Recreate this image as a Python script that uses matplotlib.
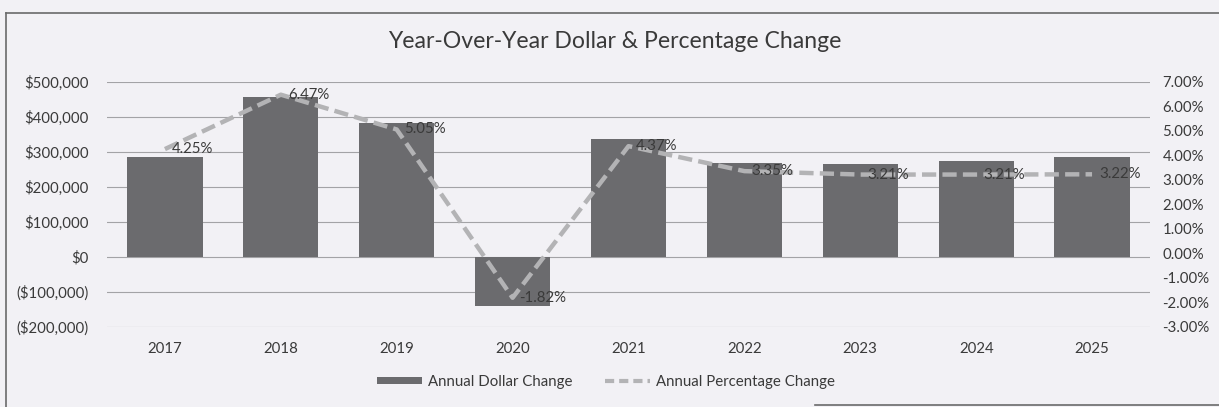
import matplotlib
matplotlib.use("Agg")
import matplotlib.pyplot as plt
from matplotlib.lines import Line2D
from matplotlib.patches import Patch
from matplotlib.ticker import FuncFormatter

# Data
years = ["2017", "2018", "2019", "2020", "2021", "2022", "2023", "2024", "2025"]
dollar_change = [285000, 456000, 383000, -140000, 336000, 267000, 266000, 273000, 284000]
pct_change = [4.25, 6.47, 5.05, -1.82, 4.37, 3.35, 3.21, 3.21, 3.22]
pct_labels = ["4.25%", "6.47%", "5.05%", "-1.82%", "4.37%", "3.35%", "3.21%", "3.21%", "3.22%"]

BG = "#f2f1f5"
BAR = "#6b6b6e"
LINE = "#b3b3b5"
GRID = "#a3a3a6"
TEXT = "#3a3a3a"
FS = 10.8

plt.rcParams["font.family"] = ["Lato", "DejaVu Sans"]

W, H = 1219, 407
fig = plt.figure(figsize=(W / 100, H / 100), dpi=100, facecolor=BG)

left, right, top, bottom = 107, 1150, 81.7, 326.7
ax = fig.add_axes([left / W, 1 - bottom / H, (right - left) / W, (bottom - top) / H])
ax.set_facecolor(BG)
ax2 = ax.twinx()

x = list(range(len(years)))
ax.bar(x, dollar_change, width=0.65, color=BAR, zorder=2)

ax.set_xlim(-0.5, len(years) - 0.5)
ax.set_ylim(-200000, 500000)
ax.set_yticks(range(-200000, 500001, 100000))


def dollar_fmt(v, _):
    v = int(round(v))
    if v < 0:
        return "(${:,})".format(-v)
    return "${:,}".format(v)


ax.yaxis.set_major_formatter(FuncFormatter(dollar_fmt))
ax.grid(axis="y", color=GRID, linewidth=0.8, zorder=0)
ax.set_axisbelow(True)
ax.set_xticks(x)
ax.set_xticklabels(years)
ax.tick_params(axis="both", length=0, labelsize=FS, labelcolor=TEXT)
ax.tick_params(axis="x", pad=11)
ax.tick_params(axis="y", pad=13)
for s in ax.spines.values():
    s.set_visible(False)

ax2.plot(x, pct_change, color=LINE, linewidth=3.2, linestyle=(0, (3.2, 1.4)),
         dash_capstyle="butt", zorder=3)
ax2.set_ylim(-3, 7)
ax2.set_yticks(range(-3, 8))
ax2.yaxis.set_major_formatter(FuncFormatter(lambda v, _: "{:.2f}%".format(v)))
ax2.tick_params(axis="y", length=0, labelsize=FS, labelcolor=TEXT, pad=9)
for s in ax2.spines.values():
    s.set_visible(False)

for xi, v, lab in zip(x, pct_change, pct_labels):
    ax2.annotate(lab, (xi, v), xytext=(5, 0), textcoords="offset points",
                 ha="left", va="center", fontsize=FS, color=TEXT, zorder=4)

fig.text(615 / W, 1 - 41 / H, "Year-Over-Year Dollar & Percentage Change",
         ha="center", va="center", fontsize=16.6, color=TEXT)

handles = [Patch(facecolor=BAR, edgecolor="none"),
           Line2D([0], [0], color=LINE, linewidth=3, linestyle=(0, (2.2, 1.2)))]
fig.legend(handles, ["Annual Dollar Change", "Annual Percentage Change"],
           loc="center", bbox_to_anchor=(606 / W, 1 - 382 / H), ncol=2,
           frameon=False, fontsize=FS, handlelength=3.0, handleheight=0.4,
           handletextpad=0.45, columnspacing=2.1, labelcolor=TEXT)

# Outer chart frame
frame_color = "#6a6a6a"
fig.add_artist(Line2D([6 / W, 6 / W], [0, 1 - 13 / H], color=frame_color, linewidth=1.2))
fig.add_artist(Line2D([6 / W, 1], [1 - 13 / H, 1 - 13 / H], color=frame_color, linewidth=1.2))
fig.add_artist(Line2D([815 / W, 1], [1 - 405 / H, 1 - 405 / H], color=frame_color, linewidth=1.2))

fig.savefig("out.png", dpi=100, facecolor=BG)
